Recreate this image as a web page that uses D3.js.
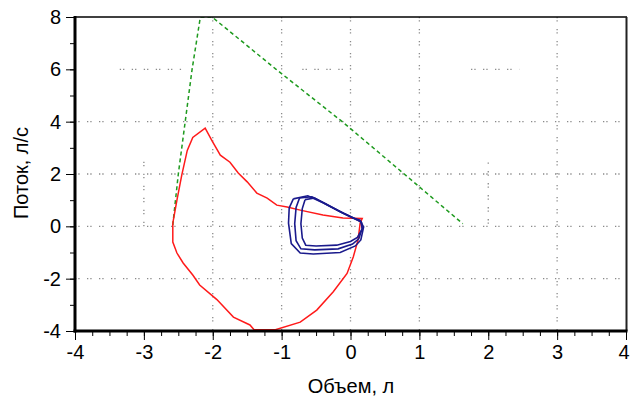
<!DOCTYPE html>
<html><head><meta charset="utf-8">
<script src="https://cdn.jsdelivr.net/npm/d3@7"></script>
<style>
body{margin:0;background:#fff;}
text{font-family:"Liberation Sans",Arial,sans-serif;fill:#000;}
</style></head>
<body><svg id="c" width="630" height="403"></svg>
<script>
// ---- data ----
const xTicks = [-4,-3,-2,-1,0,1,2,3,4];
const yTicks = [-4,-2,0,2,4,6,8];
const xLabel = "Объем, л";
const yLabel = "Поток, л/с";

// predicted (green dashed) boundary
const greenX = [-2.58,-2.50,-2.40,-2.30,-2.18,-2.01,-1.08,-0.12,0.78,1.63];
const greenY = [0.05,2.0,4.0,6.0,8.0,8.0,6.0,4.0,2.0,0.1];

// forced loop (red)
const redX = [-0.11,-0.40,-0.73,-0.92,-1.07,-1.21,-1.36,-1.50,-1.63,-1.75,-1.89,-2.01,-2.11,
  -2.29,-2.37,-2.45,-2.52,-2.58,-2.58,-2.52,-2.43,-2.29,-2.19,-1.94,-1.70,-1.46,-1.40,-1.09,
  -0.73,-0.49,-0.25,-0.05,0.04,0.11,0.14,0.17,-0.11];
const redY = [0.32,0.43,0.62,0.74,0.81,1.08,1.27,1.70,2.04,2.45,2.72,3.27,3.75,
  3.40,2.90,1.96,1.00,0.12,-0.60,-1.02,-1.40,-1.86,-2.24,-2.80,-3.47,-3.77,-3.95,-3.95,
  -3.66,-3.20,-2.50,-1.80,-1.17,-0.52,0.12,0.30,0.32];

// tidal loops (blue)
const blue1X = [-0.83,-0.62,-0.40,-0.15,0.04,0.14,0.19,0.15,0.07,-0.15,-0.54,-0.73,-0.86,-0.90,-0.89,-0.83];
const blue1Y = [1.05,1.17,0.90,0.56,0.32,0.24,-0.03,-0.52,-0.75,-1.00,-1.06,-1.02,-0.66,0.12,0.70,1.05];
const blue2X = [-0.74,-0.56,-0.36,-0.12,0.05,0.15,0.17,0.12,0.03,-0.18,-0.52,-0.72,-0.79,-0.81,-0.79,-0.74];
const blue2Y = [1.08,1.13,0.86,0.52,0.30,0.18,-0.08,-0.48,-0.68,-0.86,-0.90,-0.86,-0.55,0.10,0.72,1.08];
const blue3X = [-0.66,-0.52,-0.34,-0.10,0.06,0.16,0.17,0.10,0.00,-0.20,-0.50,-0.65,-0.70,-0.72,-0.70,-0.66];
const blue3Y = [1.02,1.08,0.82,0.50,0.30,0.15,-0.10,-0.42,-0.58,-0.72,-0.75,-0.72,-0.45,0.10,0.68,1.02];

// dotted grid: full lines and partial segments [x1,y1,x2,y2]
const gridFullX = [-2,-1,0,1,3];
const gridFullY = [4,2,0,-2];
const gridSegX1 = [-3, 2, -3.35, -0.7, 1.75];
const gridSegY1 = [0, 0.1, 6, 6, 6];
const gridSegX2 = [-3, 2, -2.45, 0, 2.45];
const gridSegY2 = [2.5, 2.5, 6, 6, 6];

// ---- layout ----
const L=75, R=626, T=17, B=331;
const x = d3.scaleLinear().domain([-4,4]).range([L,R]);
const y = d3.scaleLinear().domain([-4,8]).range([B,T]);
const svg = d3.select("#c");
const fmt = d => String(d);  // plain hyphen-minus as in reference

svg.append("defs").append("clipPath").attr("id","pc")
  .append("rect").attr("x",L).attr("y",T).attr("width",R-L).attr("height",B-T);

const grid = svg.append("g").attr("stroke","#8a8a8a").attr("stroke-width",1.3)
  .attr("stroke-dasharray","1.3,2,1.3,7.4");
gridFullX.forEach(v=>grid.append("line").attr("x1",x(v)).attr("x2",x(v)).attr("y1",T).attr("y2",B));
gridFullY.forEach(v=>grid.append("line").attr("x1",L).attr("x2",R).attr("y1",y(v)).attr("y2",y(v)));
gridSegX1.forEach((v,i)=>grid.append("line").attr("x1",x(v)).attr("y1",y(gridSegY1[i]))
  .attr("x2",x(gridSegX2[i])).attr("y2",y(gridSegY2[i])));

const line = d3.line().x(d=>x(d[0])).y(d=>y(d[1]));
const plot = svg.append("g").attr("clip-path","url(#pc)");
const zip = (a,b)=>a.map((v,i)=>[v,b[i]]);

plot.append("path").attr("d",line(zip(greenX,greenY))).attr("fill","none")
  .attr("stroke","#1e9a1e").attr("stroke-width",1.5).attr("stroke-dasharray","4,3");
plot.append("path").attr("d",line(zip(redX,redY))).attr("fill","none")
  .attr("stroke","#ff1a1a").attr("stroke-width",1.5);
[[blue1X,blue1Y],[blue2X,blue2Y],[blue3X,blue3Y]].forEach(([a,b])=>
  plot.append("path").attr("d",line(zip(a,b))).attr("fill","none")
    .attr("stroke","#1a1a8c").attr("stroke-width",1.6));

// frame
svg.append("line").attr("x1",L).attr("x2",R+1).attr("y1",T).attr("y2",T).attr("stroke","#000").attr("stroke-width",1.5);
svg.append("line").attr("x1",R+0.5).attr("x2",R+0.5).attr("y1",T).attr("y2",B).attr("stroke","#222").attr("stroke-width",2);

// axes
const gx = svg.append("g").attr("transform",`translate(0,${B})`)
  .call(d3.axisBottom(x).tickValues(d3.range(-4,4.01,0.25)).tickSize(5).tickFormat(""));
gx.select(".domain").remove();
const gx2 = svg.append("g").attr("transform",`translate(0,${B})`)
  .call(d3.axisBottom(x).tickValues(xTicks).tickSize(9).tickFormat(fmt).tickPadding(5));
gx2.select(".domain").remove();
gx2.selectAll("text").attr("font-size",20).attr("fill","#000")
  .attr("dx", d => d === 4 ? -2.5 : 0);

const gy = svg.append("g").attr("transform",`translate(${L},0)`)
  .call(d3.axisLeft(y).tickValues(d3.range(-4,8.01,1)).tickSize(5).tickFormat(""));
gy.select(".domain").remove();
const gy2 = svg.append("g").attr("transform",`translate(${L},0)`)
  .call(d3.axisLeft(y).tickValues(yTicks).tickSize(9).tickFormat(fmt).tickPadding(5));
gy2.select(".domain").remove();
gy2.selectAll("text").attr("font-size",20).attr("fill","#000");

svg.append("line").attr("x1",L).attr("x2",L).attr("y1",T-1).attr("y2",B+1.5).attr("stroke","#000").attr("stroke-width",3);
svg.append("line").attr("x1",L-1.5).attr("x2",R+1.5).attr("y1",B).attr("y2",B).attr("stroke","#000").attr("stroke-width",3);

svg.append("text").attr("x",351).attr("y",393).attr("text-anchor","middle")
  .attr("font-size",20).text(xLabel);
svg.append("text").attr("transform",`translate(28,173) rotate(-90)`)
  .attr("text-anchor","middle").attr("font-size",20).text(yLabel);
</script></body></html>
